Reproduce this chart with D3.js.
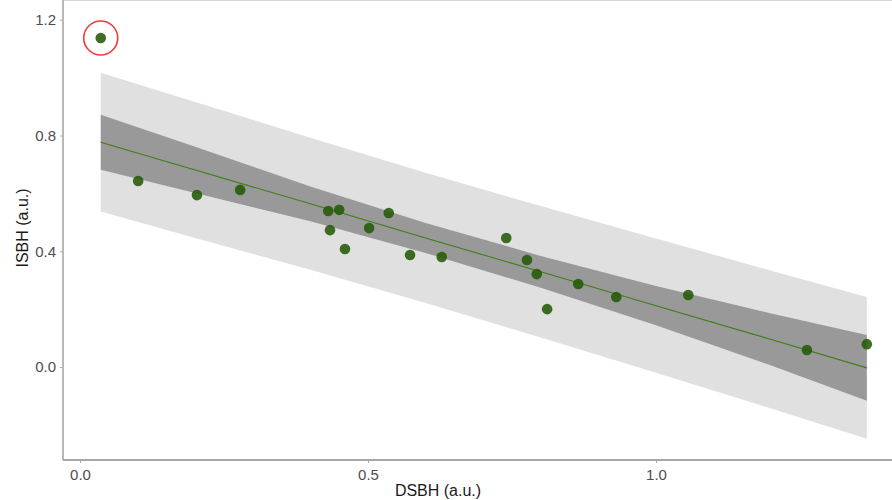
<!DOCTYPE html>
<meta charset="utf-8">
<head>
    <title>ISBH vs DSBH</title>
    <script src="https://cdn.jsdelivr.net/npm/d3@7/dist/d3.min.js"></script>
</head>
<style>
    body{ margin:0; background:#fff; }
    text{ font-family: "Liberation Sans", Arial, sans-serif; }
</style>
<svg width="892" height="500"></svg>
<script>
    // observations (DSBH, ISBH)
    var dsbh = [0.036, 0.101, 0.203, 0.278, 0.431, 0.434, 0.450, 0.460, 0.502, 0.536, 0.573,
                0.628, 0.740, 0.776, 0.793, 0.811, 0.865, 0.931, 1.056, 1.262, 1.366];
    var isbh = [1.137, 0.643, 0.594, 0.612, 0.539, 0.473, 0.543, 0.408, 0.480, 0.532, 0.387,
                0.380, 0.446, 0.370, 0.321, 0.200, 0.287, 0.242, 0.249, 0.059, 0.079];

    // fitted line with confidence and prediction bands
    var fitX    = [0.036, 0.2, 0.4, 0.6, 0.8, 1.0, 1.2, 1.366];
    var fitY    = [0.777, 0.681, 0.564, 0.446, 0.329, 0.212, 0.095, -0.003];
    var ciLow   = [0.682, 0.601, 0.504, 0.394, 0.274, 0.144, 0.005, -0.117];
    var ciHigh  = [0.872, 0.761, 0.624, 0.498, 0.384, 0.280, 0.185, 0.111];
    var piLow   = [0.537, 0.446, 0.336, 0.221, 0.102, -0.020, -0.143, -0.248];
    var piHigh  = [1.017, 0.916, 0.792, 0.671, 0.556, 0.444, 0.333, 0.242];

    var outlier = 0;   // index of the circled point
    var xTicks = [0.0, 0.5, 1.0],
        yTicks = [0.0, 0.4, 0.8, 1.2];

    var svg = d3.select('svg'),
        left = 63, top = 17, bottom = 460, right = 892;

    var x = d3.scaleLinear().domain([0, 1]).range([80, 656]),
        y = d3.scaleLinear().domain([0, 0.8]).range([367, 135.5]);

    var band = fitX.map(function(v, i){
        return {x: v, y: fitY[i], cl: ciLow[i], ch: ciHigh[i], pl: piLow[i], ph: piHigh[i]};
    });

    // panel frame
    svg.append('line').attr('x1', left).attr('x2', right).attr('y1', top).attr('y2', top)
        .style('stroke', '#d4d4d4').style('stroke-width', 2);

    var areaPi = d3.area().x(function(d){ return x(d.x); })
        .y0(function(d){ return y(d.pl); }).y1(function(d){ return y(d.ph); });
    var areaCi = d3.area().x(function(d){ return x(d.x); })
        .y0(function(d){ return y(d.cl); }).y1(function(d){ return y(d.ch); });

    svg.append('path').datum(band).attr('d', areaPi).style('fill', '#e0e0e0');
    svg.append('path').datum(band).attr('d', areaCi).style('fill', '#999999');

    svg.append('path').datum(band)
        .attr('d', d3.line().x(function(d){ return x(d.x); }).y(function(d){ return y(d.y); }))
        .style('fill', 'none').style('stroke', '#3d7f17').style('stroke-width', 1.1);

    svg.append('g').selectAll('circle').data(dsbh).enter().append('circle')
        .attr('cx', function(d){ return x(d); })
        .attr('cy', function(d, i){ return y(isbh[i]); })
        .attr('r', 5.3)
        .style('fill', '#225a04')
        .style('fill-opacity', 0.88);

    svg.append('circle')
        .attr('cx', x(dsbh[outlier])).attr('cy', y(isbh[outlier]))
        .attr('r', 17)
        .style('fill', 'none').style('stroke', '#f23b3b').style('stroke-width', 1.6);

    // axes
    var ax = svg.append('g').attr('transform', 'translate(0,' + bottom + ')')
        .call(d3.axisBottom(x).tickValues(xTicks).tickFormat(d3.format('.1f')).tickSizeOuter(0).tickSize(3));
    var ay = svg.append('g').attr('transform', 'translate(' + left + ',0)')
        .call(d3.axisLeft(y).tickValues(yTicks).tickFormat(d3.format('.1f')).tickSizeOuter(0).tickSize(3));

    [ax, ay].forEach(function(a){
        a.select('.domain').remove();
        a.selectAll('.tick line').style('stroke', '#aaa');
        a.selectAll('.tick text').style('font-size', '15px').style('fill', '#4d4d4d')
            .style('font-family', '"Liberation Sans", Arial, sans-serif');
    });
    ax.selectAll('.tick text').attr('dy', '0.95em');
    ay.selectAll('.tick text').attr('dx', '-1px');

    svg.append('line').attr('x1', left).attr('x2', left).attr('y1', top).attr('y2', bottom)
        .style('stroke', '#b8b8b8').style('stroke-width', 2);
    svg.append('line').attr('x1', left).attr('x2', right).attr('y1', bottom).attr('y2', bottom)
        .style('stroke', '#a8a8a8').style('stroke-width', 2);

    svg.append('text').text('DSBH (a.u.)')
        .attr('x', 438).attr('y', 496).attr('text-anchor', 'middle')
        .style('font-size', '16px').style('fill', '#1a1a1a');
    svg.append('text').text('ISBH (a.u.)')
        .attr('transform', 'translate(28,228) rotate(-90)').attr('text-anchor', 'middle')
        .style('font-size', '16px').style('fill', '#1a1a1a');
</script>
